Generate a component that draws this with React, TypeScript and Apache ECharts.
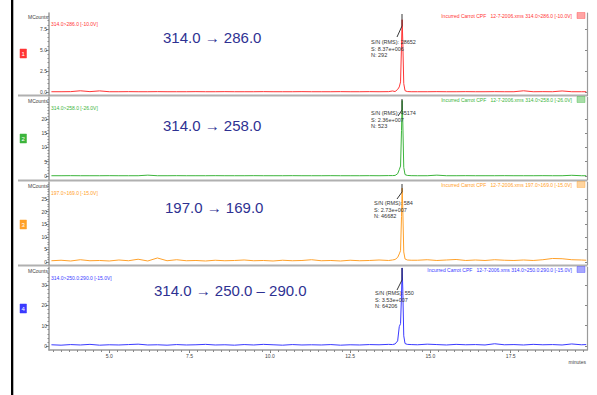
import React, { useEffect, useRef } from "react";
import * as echarts from "echarts";

// Retention times (minutes), shared by all four traces
const times = [
  3.2, 3.5, 3.8, 4.1, 4.4, 4.7, 5.0, 5.3, 5.6, 5.9, 6.2, 6.5, 6.8, 7.1, 7.4, 7.7, 8.0, 8.3,
  8.6, 8.9, 9.2, 9.5, 9.8, 10.1, 10.4, 10.7, 11.0, 11.3, 11.6, 11.9, 12.2, 12.5, 12.8, 13.1,
  13.4, 13.7,
  13.82, 13.9, 13.98, 14.03, 14.07, 14.1, 14.12, 14.14, 14.17, 14.21, 14.28, 14.4,
  14.6, 14.9, 15.2, 15.5, 15.8, 16.1, 16.4, 16.7, 17.0, 17.3, 17.6, 17.9, 18.2, 18.5, 18.8,
  19.1, 19.4, 19.7, 19.85,
];

// MCounts per trace
const redValues = [
  0.03, 0.03, 0.04, 0.14, 0.04, 0.13, 0.03, 0.03, 0.04, 0.03, 0.03, 0.04, 0.03, 0.03, 0.03, 0.04, 0.03, 0.03,
  0.04, 0.03, 0.03, 0.03, 0.04, 0.03, 0.03, 0.03, 0.04, 0.03, 0.03, 0.03, 0.04, 0.03, 0.03, 0.04,
  0.03, 0.04,
  0.12, 0.05, 0.3, 0.6, 1.2, 5.5, 8.6, 6.0, 1.0, 0.15, 0.05, 0.03,
  0.03, 0.03, 0.04, 0.03, 0.03, 0.04, 0.03, 0.03, 0.04, 0.03, 0.03, 0.14, 0.03, 0.04, 0.03,
  0.12, 0.03, 0.03, 0.03,
];
const greenValues = [
  0.1, 0.1, 0.12, 0.1, 0.1, 0.1, 0.12, 0.1, 0.1, 0.1, 0.3, 0.1, 0.1, 0.12, 0.1, 0.1, 0.1, 0.12,
  0.1, 0.1, 0.1, 0.12, 0.1, 0.1, 0.1, 0.12, 0.1, 0.1, 0.1, 0.12, 0.1, 0.1, 0.1, 0.12,
  0.1, 0.15,
  0.15, 0.2, 0.8, 2.2, 3.5, 16, 26.5, 19, 3.0, 0.5, 0.2, 0.12,
  0.1, 0.1, 0.3, 0.1, 0.1, 0.12, 0.1, 0.1, 0.1, 0.12, 0.1, 0.1, 0.1, 0.12, 0.1,
  0.1, 0.25, 0.1, 0.1,
];
const orangeValues = [
  0.5, 0.7, 0.4, 0.9, 0.5, 0.6, 0.4, 0.8, 0.5, 1.1, 0.4, 1.6, 0.5, 0.9, 0.5, 0.6, 0.4, 0.7,
  0.5, 0.6, 0.8, 0.5, 0.6, 0.4, 0.7, 0.5, 0.6, 0.9, 0.5, 0.6, 0.4, 0.7, 0.5, 0.6,
  0.8, 0.6,
  0.8, 1.0, 1.8, 3.2, 4.5, 18, 29.3, 21, 4.0, 1.2, 0.8, 0.7,
  0.7, 0.9, 0.6, 0.8, 1.0, 0.6, 0.8, 0.6, 0.9, 0.7, 0.6, 0.8, 0.6, 0.9, 1.4,
  1.3, 0.9, 0.8, 0.7,
];
const blueValues = [
  0.6, 0.4, 0.7, 0.5, 0.8, 0.4, 0.6, 0.5, 0.7, 0.9, 0.5, 0.6, 0.4, 0.7, 0.5, 0.6, 0.8, 0.5,
  0.6, 0.4, 0.7, 0.5, 0.8, 0.6, 0.4, 0.7, 0.5, 0.6, 0.5, 0.7, 0.4, 0.6, 0.5, 0.7,
  0.6, 0.8,
  0.7, 1.0, 2.5, 9.5, 11, 25, 38.4, 28, 5, 1.2, 0.8, 0.7,
  0.6, 0.9, 0.7, 0.5, 0.8, 0.6, 0.7, 0.5, 1.1, 0.6, 0.7, 0.5, 0.8, 0.6, 0.7,
  0.5, 1.0, 0.6, 0.7,
];

const traces = [redValues, greenValues, orangeValues, blueValues];
const traceColors = ["#ff3535", "#3cb43c", "#ffa028", "#3a3aff"];
const yLabelValues = [
  [0, 2.5, 5, 7.5],
  [0, 5, 10, 15, 20],
  [0, 5, 10, 15, 20, 25],
  [0, 10, 20, 30],
];
const yDecimals = [1, 0, 0, 0];
const yMinorSteps = [0.5, 1, 1, 2];
const yRanges = [
  [-0.42, 9.4],
  [-1.4, 27.7],
  [-1.19, 31.75],
  [-1.97, 38.85],
];
const xRange = [3.125, 19.875];
const xLabelValues = [5, 7.5, 10, 12.5, 15, 17.5];

const transitions = ["314.0 → 286.0", "314.0 → 258.0", "197.0 → 169.0", "314.0 → 250.0 – 290.0"];
const channelTags = [
  "314.0>286.0 [-10.0V]",
  "314.0>258.0 [-26.0V]",
  "197.0>169.0 [-15.0V]",
  "314.0>250.0:290.0 [-15.0V]",
];
const headerTags = [
  "Incurred Carrot CPF   12-7-2006.xms 314.0>286.0 [-10.0V]",
  "Incurred Carrot CPF   12-7-2006.xms 314.0>258.0 [-26.0V]",
  "Incurred Carrot CPF   12-7-2006.xms 197.0>169.0 [-15.0V]",
  "Incurred Carrot CPF   12-7-2006.xms 314.0>250.0:290.0 [-15.0V]",
];
const snValues = ["28652", "45174", "584", "550"];
const signalValues = ["8.37e+006", "2.36e+007", "2.73e+007", "3.53e+007"];
const noiseValues = ["292", "523", "46682", "64206"];
const panelNumbers = ["1", "2", "3", "4"];

// layout (pixels)
const gridTops = [13, 97, 182, 267];
const gridHeights = [82.5, 83, 83, 83];
const gridLeft = 49;
const gridWidth = 538;
const bigLabelPos = [
  [163, 37],
  [163, 125],
  [165, 207],
  [154, 290],
];
const annotPos = [
  [371, 42],
  [371, 113],
  [374, 203],
  [375, 293],
];
const leaderPts = [
  [[402, 14], [402, 26], [397, 37]],
  [[402, 99], [402, 110], [398, 116]],
  [[402, 184], [402, 192], [397, 199]],
  [[402, 268], [402, 280], [397, 290]],
];
const boxY = [49, 134, 220, 304];

const FONT = "'Liberation Sans', Arial, sans-serif";

function stepValues(from: number, to: number, step: number) {
  const out: number[] = [];
  for (let v = from; v <= to + 1e-9; v += step) out.push(Math.round(v * 1000) / 1000);
  return out;
}

export default function App() {
  const ref = useRef<HTMLDivElement>(null);

  useEffect(() => {
    if (!ref.current) return;
    const chart = echarts.init(ref.current, undefined, { renderer: "svg" });

    const grids = gridTops.map((t, i) => ({
      left: gridLeft,
      top: t,
      width: gridWidth,
      height: gridHeights[i],
      containLabel: false,
    }));

    const axisGray = "#9a9a9a";
    const xAxes: any[] = [];
    for (let i = 0; i < 4; i++) {
      if (i < 3) {
        xAxes.push({ type: "value", gridIndex: i, min: xRange[0], max: xRange[1], show: false });
      } else {
        xAxes.push({
          type: "value",
          gridIndex: i,
          min: xRange[0],
          max: xRange[1],
          splitLine: { show: false },
          axisLine: { show: true, onZero: false, lineStyle: { color: axisGray, width: 1.5 } },
          axisTick: { show: true, customValues: xLabelValues, length: 3, lineStyle: { color: "#777" } },
          axisLabel: {
            customValues: xLabelValues,
            fontSize: 5,
            color: "#444",
            margin: 3,
            fontFamily: FONT,
            formatter: (v: number) => v.toFixed(1),
          },
        });
      }
    }
    xAxes.push({
      type: "value",
      gridIndex: 3,
      min: xRange[0],
      max: xRange[1],
      position: "bottom",
      splitLine: { show: false },
      axisLine: { show: false, onZero: false },
      axisTick: { show: true, customValues: stepValues(3.25, 19.75, 0.25), length: 2, lineStyle: { color: "#888" } },
      axisLabel: { show: false },
    });

    const yAxes: any[] = [];
    for (let i = 0; i < 4; i++) {
      const [mn, mx] = yRanges[i];
      yAxes.push({
        type: "value",
        gridIndex: i,
        min: mn,
        max: mx,
        position: "left",
        splitLine: { show: false },
        axisLine: { show: true, onZero: false, lineStyle: { color: axisGray, width: 1.5 } },
        axisTick: { show: true, customValues: yLabelValues[i], length: 3, lineStyle: { color: "#777" } },
        axisLabel: {
          customValues: yLabelValues[i],
          fontSize: 5,
          color: "#444",
          margin: 2,
          fontFamily: FONT,
          formatter: (v: number) => v.toFixed(yDecimals[i]),
        },
      });
      yAxes.push({
        type: "value",
        gridIndex: i,
        min: mn,
        max: mx,
        position: "left",
        splitLine: { show: false },
        axisLine: { show: false, onZero: false },
        axisTick: { show: true, customValues: stepValues(0, mx, yMinorSteps[i]), length: 1.5, lineStyle: { color: "#888" } },
        axisLabel: { show: false },
      });
      yAxes.push({
        type: "value",
        gridIndex: i,
        min: mn,
        max: mx,
        position: "right",
        splitLine: { show: false },
        axisLine: { show: true, onZero: false, lineStyle: { color: axisGray, width: 1.2 } },
        axisTick: { show: true, inside: true, customValues: yLabelValues[i], length: 2, lineStyle: { color: "#888" } },
        axisLabel: { show: false },
      });
    }

    const series = traces.map((vals, i) => ({
      type: "line",
      xAxisIndex: i,
      yAxisIndex: i * 3,
      data: times.map((t, k) => [t, vals[k]]),
      showSymbol: false,
      symbol: "none",
      lineStyle: { color: traceColors[i], width: 1 },
      z: 3,
    }));

    const graphics: any[] = [];
    // left black bar
    graphics.push({ type: "rect", shape: { x: 11, y: 0, width: 2.3, height: 395 }, style: { fill: "#000" }, silent: true });
    // separators
    [95.5, 180.5, 265.5].forEach((y) =>
      graphics.push({
        type: "line",
        shape: { x1: 18, y1: y, x2: 587, y2: y },
        style: { stroke: "#b0b0b0", lineWidth: 2 },
        silent: true,
      })
    );
    const txt = (x: number, y: number, text: string, size: number, fill: string, align = "left") => ({
      type: "text",
      x,
      y,
      silent: true,
      z: 10,
      style: {
        text,
        fill,
        fontSize: size,
        fontFamily: FONT,
        align,
        verticalAlign: "middle",
        textAlign: align,
        textVerticalAlign: "middle",
      },
    });
    for (let i = 0; i < 4; i++) {
      const top = gridTops[i];
      // MCounts
      graphics.push(txt(48, top + 3.5, "MCounts", 5, "#444", "right"));
      // channel tag
      graphics.push(txt(51, top + 11, channelTags[i], 5, traceColors[i]));
      // header
      graphics.push(txt(572, top + 2.5, headerTags[i], 5, traceColors[i], "right"));
      graphics.push({
        type: "rect",
        silent: true,
        z: 10,
        shape: { x: 577, y: top - 0.5, width: 8, height: 6 },
        style: { fill: traceColors[i], opacity: 0.45, stroke: traceColors[i], lineWidth: 0.8 },
      });
      // big transition label
      graphics.push(txt(bigLabelPos[i][0], bigLabelPos[i][1], transitions[i], 15, "#2e3192"));
      // annotation
      const [ax, ay] = annotPos[i];
      graphics.push(txt(ax, ay, "S/N (RMS): " + snValues[i], 5.5, "#333"));
      graphics.push(txt(ax, ay + 6.5, "S: " + signalValues[i], 5.5, "#333"));
      graphics.push(txt(ax, ay + 13, "N: " + noiseValues[i], 5.5, "#333"));
      graphics.push({
        type: "polyline",
        silent: true,
        z: 11,
        shape: { points: leaderPts[i] },
        style: { stroke: "#222", lineWidth: 0.9, fill: null },
      });
      // panel number box
      graphics.push({
        type: "rect",
        silent: true,
        z: 10,
        shape: { x: 20, y: boxY[i], width: 6.5, height: 9 },
        style: { fill: traceColors[i], stroke: traceColors[i], lineWidth: 0.5 },
      });
      graphics.push(txt(23.25, boxY[i] + 4.7, panelNumbers[i], 6, "#fff", "center"));
    }
    graphics.push(txt(586, 362, "minutes", 5, "#444", "right"));

    chart.setOption({
      animation: false,
      backgroundColor: "#fff",
      grid: grids,
      xAxis: xAxes,
      yAxis: yAxes,
      series,
      graphic: graphics,
    });

    return () => chart.dispose();
  }, []);

  return (
    <div
      ref={ref}
      style={{ position: "fixed", left: 0, top: 0, width: 597, height: 395, background: "#fff" }}
    />
  );
}
